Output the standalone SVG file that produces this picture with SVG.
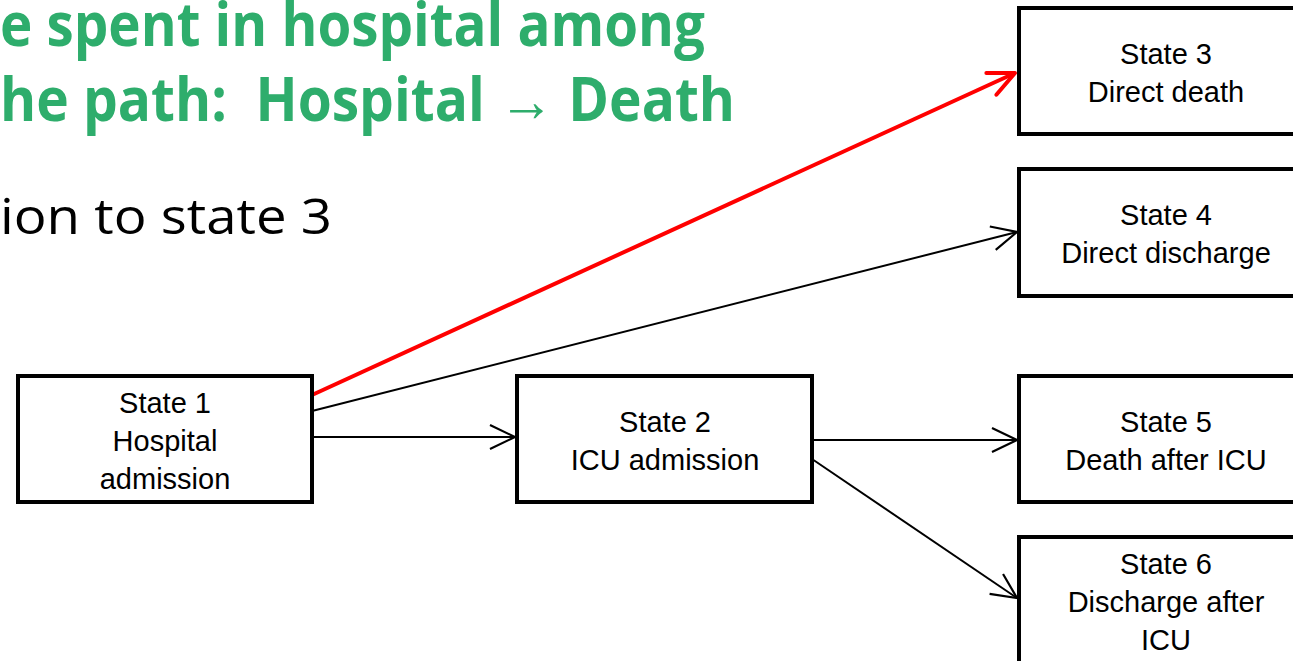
<svg xmlns="http://www.w3.org/2000/svg" width="1293" height="661" viewBox="0 0 1293 661">
  <style>
    .box { fill: #ffffff; stroke: #000000; stroke-width: 4; }
    .lbl { font-family: "Liberation Sans", Arial, sans-serif; font-size: 29px; fill: #000000; text-anchor: middle; }
    .title { font-family: "Open Sans", "Noto Sans", sans-serif; font-weight: bold; font-size: 60px; fill: #2EAD6C; }
    .sub { font-family: "Open Sans", "Noto Sans", sans-serif; font-size: 50px; fill: #000000; }
    .edge { fill: none; stroke: #000000; stroke-width: 2; }
    .hot { fill: none; stroke: #FF0000; stroke-width: 4; }
  </style>
  <defs>
    <marker id="open" markerUnits="userSpaceOnUse" viewBox="-30 -16 34 32" refX="0" refY="0" markerWidth="34" markerHeight="32" orient="auto">
      <path d="M -25 -12 L 0 0 L -25 12" fill="none" stroke="#000000" stroke-width="2.2"/>
    </marker>
    <marker id="openRed" markerUnits="userSpaceOnUse" viewBox="-32 -18 38 36" refX="0" refY="0" markerWidth="38" markerHeight="36" orient="auto">
      <path d="M -26 -12 L 0 0 L -26 12" fill="none" stroke="#FF0000" stroke-width="4" stroke-linecap="round" stroke-linejoin="round"/>
    </marker>
  </defs>
  <rect width="1293" height="661" fill="#ffffff"/>

  <!-- heading text -->
  <g id="heading">
    <text class="title" x="0" y="46" textLength="705" lengthAdjust="spacingAndGlyphs">e spent in hospital among</text>
    <text class="title" x="0" y="121" textLength="735" lengthAdjust="spacingAndGlyphs" xml:space="preserve">he path:  Hospital → Death</text>
    <text class="sub" x="0" y="234" textLength="332" lengthAdjust="spacingAndGlyphs">ion to state 3</text>
  </g>

  <!-- connectors -->
  <g id="connectors">
    <line class="hot" x1="312" y1="395" x2="1015" y2="73" marker-end="url(#openRed)"/>
    <line class="edge" x1="312" y1="411" x2="1017" y2="232" marker-end="url(#open)"/>
    <line class="edge" x1="312" y1="437" x2="515" y2="437" marker-end="url(#open)"/>
    <line class="edge" x1="812" y1="440" x2="1017" y2="440" marker-end="url(#open)"/>
    <line class="edge" x1="812" y1="459" x2="1017" y2="598" marker-end="url(#open)"/>
  </g>

  <!-- nodes -->
  <g id="state1">
    <rect class="box" x="18" y="376" width="294" height="126"/>
    <text class="lbl" x="165" y="413">State 1</text>
    <text class="lbl" x="165" y="451">Hospital</text>
    <text class="lbl" x="165" y="489">admission</text>
  </g>
  <g id="state2">
    <rect class="box" x="517" y="376" width="295" height="126"/>
    <text class="lbl" x="665" y="432">State 2</text>
    <text class="lbl" x="665" y="470">ICU admission</text>
  </g>
  <g id="state3">
    <rect class="box" x="1019" y="8" width="296" height="126"/>
    <text class="lbl" x="1166" y="64">State 3</text>
    <text class="lbl" x="1166" y="102">Direct death</text>
  </g>
  <g id="state4">
    <rect class="box" x="1019" y="169" width="296" height="127"/>
    <text class="lbl" x="1166" y="225">State 4</text>
    <text class="lbl" x="1166" y="263">Direct discharge</text>
  </g>
  <g id="state5">
    <rect class="box" x="1019" y="376" width="296" height="126"/>
    <text class="lbl" x="1166" y="432">State 5</text>
    <text class="lbl" x="1166" y="470">Death after ICU</text>
  </g>
  <g id="state6">
    <rect class="box" x="1019" y="537" width="296" height="140"/>
    <text class="lbl" x="1166" y="574">State 6</text>
    <text class="lbl" x="1166" y="612">Discharge after</text>
    <text class="lbl" x="1166" y="650">ICU</text>
  </g>
</svg>
